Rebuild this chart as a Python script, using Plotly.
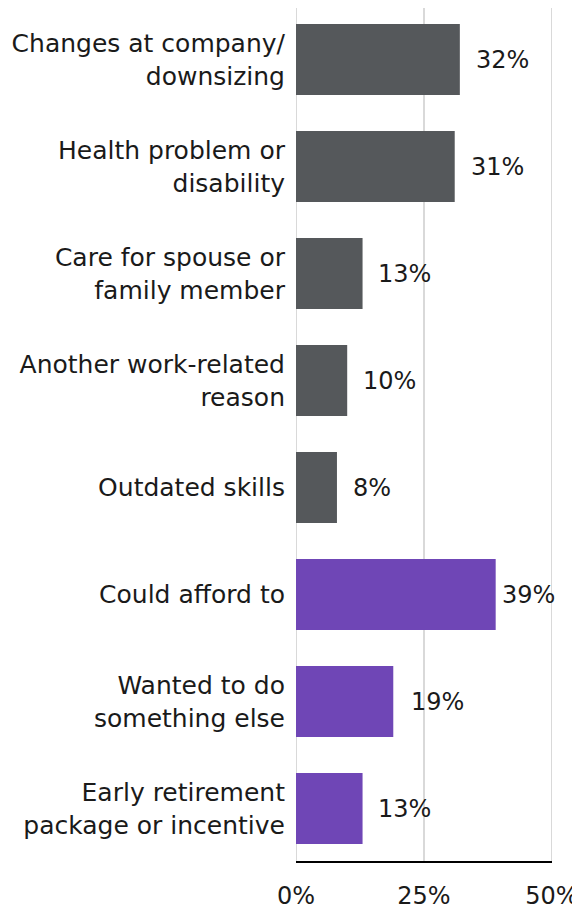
import plotly.graph_objects as go

categories = [
    "Changes at company/<br>downsizing",
    "Health problem or<br>disability",
    "Care for spouse or<br>family member",
    "Another work-related<br>reason",
    "Outdated skills",
    "Could afford to",
    "Wanted to do<br>something else",
    "Early retirement<br>package or incentive",
]
values = [32, 31, 13, 10, 8, 39, 19, 13]
groups = ["gray", "gray", "gray", "gray", "gray", "purple", "purple", "purple"]
tick_vals = [0, 25, 50]
tick_text = ["0%", "25%", "50%"]

color_map = {"gray": "#55585b", "purple": "#6f46b6"}
FONT = "DejaVu Sans"
FS = 25
TXT = "#1a1a1a"

fig = go.Figure()
fig.add_trace(go.Bar(
    y=categories,
    x=values,
    orientation="h",
    marker=dict(color=[color_map[g] for g in groups], line=dict(width=0)),
    width=0.664,
    hoverinfo="skip",
))

label_shift = [14, 14, 13, 14, 14, 4, 16, 13]
for c, v, s in zip(categories, values, label_shift):
    fig.add_annotation(
        x=v, y=c, text=f"{v}%", showarrow=False,
        xanchor="left", yanchor="middle", xshift=s,
        font=dict(family=FONT, size=FS - 1, color=TXT),
    )

# vertical grid lines at the tick values
for tv in tick_vals:
    fig.add_shape(
        type="line", xref="x", yref="paper", x0=tv, x1=tv, y0=0, y1=1,
        line=dict(color="#cccccc", width=1.5), layer="below",
    )

# the page body has an 8px default margin, so the figure is 8px smaller
fig.update_layout(
    width=572, height=901,
    margin=dict(l=288, r=28, t=0, b=48, autoexpand=False),
    plot_bgcolor="white", paper_bgcolor="white",
    showlegend=False,
    font=dict(family=FONT, size=FS, color=TXT),
)
fig.update_xaxes(
    range=[0, 50], tickvals=tick_vals, ticktext=tick_text,
    showgrid=False, zeroline=False,
    showline=True, linecolor="black", linewidth=2,
    ticks="outside", ticklen=12, tickcolor="rgba(0,0,0,0)",
    tickfont=dict(family=FONT, size=FS - 1, color=TXT),
    automargin=False,
    fixedrange=True,
)
fig.update_yaxes(
    categoryorder="array", categoryarray=categories,
    range=[7.4907, -0.4813],
    showgrid=False, zeroline=False, showline=False,
    ticks="", ticklabelstandoff=10,
    tickfont=dict(family=FONT, size=FS, color=TXT),
    automargin=False,
    fixedrange=True,
)

fig.write_html("out.html", config={"displayModeBar": False})
